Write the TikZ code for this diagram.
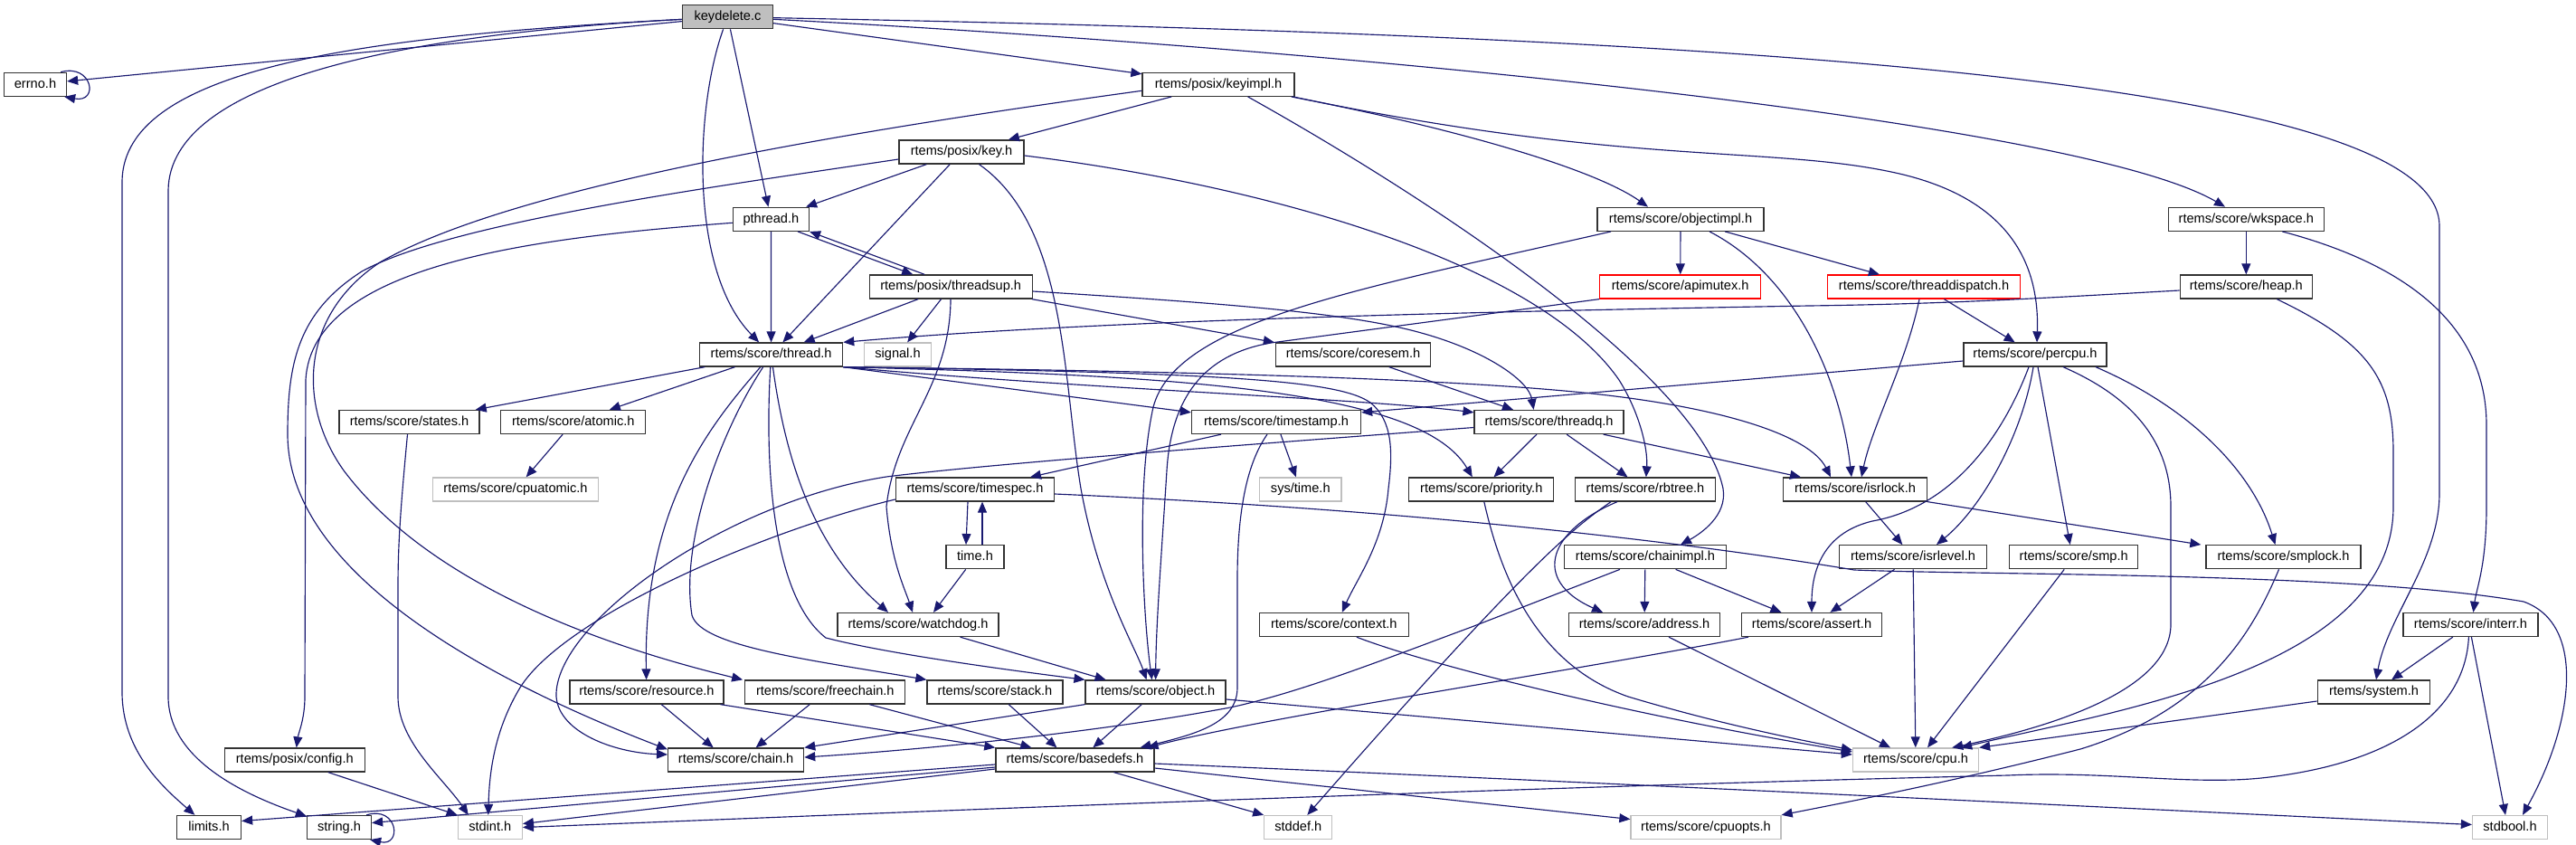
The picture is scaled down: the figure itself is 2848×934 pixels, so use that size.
\documentclass[tikz,border=0pt]{standalone}
\usepackage{fontspec}
\setmainfont{Liberation Sans}
\usetikzlibrary{arrows.meta}
\definecolor{edgec}{HTML}{191970}
\definecolor{greyb}{HTML}{BFBFBF}
\begin{document}
\begin{tikzpicture}[x=1pt,y=-1pt,
  box/.style={draw=black!80,line width=1.3pt,fill=white,minimum height=26pt,inner sep=0pt,
     font=\fontsize{14.6}{16}\selectfont,text height=10.6pt,text depth=3.1pt},
  gbox/.style={box,draw=greyb},
  rbox/.style={box,draw=red},
  dep/.style={draw=edgec,line width=1.15pt,-{Triangle[length=12pt,width=10pt]}}]
\useasboundingbox (0,0) rectangle (2848,934);
% ---------- nodes ----------
\node[box,fill=greyb,minimum width=100pt] (kd) at (804.5,18.7) {keydelete.c};
\node[box,minimum width=69pt] (errno) at (39,93.3) {errno.h};
\node[box,minimum width=168pt] (keyimpl) at (1347,93.3) {rtems/posix/keyimpl.h};
\node[box,minimum width=138pt] (key) at (1063,168) {rtems/posix/key.h};
\node[box,minimum width=84pt] (pthread) at (852.4,242.3) {pthread.h};
\node[box,minimum width=184pt] (objimpl) at (1858,242.3) {rtems/score/objectimpl.h};
\node[box,minimum width=172pt] (wkspace) at (2483.3,242.3) {rtems/score/wkspace.h};
\node[box,minimum width=180pt] (threadsup) at (1051.2,317) {rtems/posix/threadsup.h};
\node[rbox,minimum width=178pt] (apimutex) at (1857.7,317) {rtems/score/apimutex.h};
\node[rbox,minimum width=213pt] (tdisp) at (2127,317) {rtems/score/threaddispatch.h};
\node[box,minimum width=146pt] (heap) at (2483.3,317) {rtems/score/heap.h};
\node[box,minimum width=158pt] (thread) at (852.6,392) {rtems/score/thread.h};
\node[gbox,minimum width=73.5pt] (signal) at (992.5,392) {signal.h};
\node[box,minimum width=171pt] (coresem) at (1496,392) {rtems/score/coresem.h};
\node[box,minimum width=158pt] (percpu) at (2250,392) {rtems/score/percpu.h};
\node[box,minimum width=155pt] (states) at (452.5,466.5) {rtems/score/states.h};
\node[box,minimum width=160pt] (atomic) at (633.8,466.5) {rtems/score/atomic.h};
\node[box,minimum width=187pt] (timestamp) at (1411,466.5) {rtems/score/timestamp.h};
\node[box,minimum width=165pt] (threadq) at (1712.6,466.5) {rtems/score/threadq.h};
\node[gbox,minimum width=183pt] (cpuatomic) at (570,541) {rtems/score/cpuatomic.h};
\node[box,minimum width=175pt] (timespec) at (1078,541) {rtems/score/timespec.h};
\node[gbox,minimum width=90.6pt] (systime) at (1437.8,541) {sys/time.h};
\node[box,minimum width=160pt] (priority) at (1637.8,541) {rtems/score/priority.h};
\node[box,minimum width=155pt] (rbtree) at (1819,541) {rtems/score/rbtree.h};
\node[box,minimum width=159pt] (isrlock) at (2051,541) {rtems/score/isrlock.h};
\node[box,minimum width=64pt] (time) at (1078,615.7) {time.h};
\node[box,minimum width=179pt] (chainimpl) at (1819,615.7) {rtems/score/chainimpl.h};
\node[box,minimum width=163pt] (isrlevel) at (2115,615.7) {rtems/score/isrlevel.h};
\node[box,minimum width=142pt] (smp) at (2292.7,615.7) {rtems/score/smp.h};
\node[box,minimum width=171pt] (smplock) at (2524.5,615.7) {rtems/score/smplock.h};
\node[box,minimum width=178pt] (watchdog) at (1015,690.5) {rtems/score/watchdog.h};
\node[box,minimum width=165pt] (context) at (1474.8,690.5) {rtems/score/context.h};
\node[box,minimum width=167pt] (address) at (1818,690.5) {rtems/score/address.h};
\node[box,minimum width=155pt] (assert) at (2003,690.5) {rtems/score/assert.h};
\node[box,minimum width=149pt] (interr) at (2731.4,690.5) {rtems/score/interr.h};
\node[box,minimum width=170pt] (resource) at (714.9,765) {rtems/score/resource.h};
\node[box,minimum width=177pt] (freechain) at (912.3,765) {rtems/score/freechain.h};
\node[box,minimum width=150pt] (stack) at (1100,765) {rtems/score/stack.h};
\node[box,minimum width=155pt] (object) at (1277.6,765) {rtems/score/object.h};
\node[box,minimum width=124.5pt] (system) at (2624.5,765) {rtems/system.h};
\node[box,minimum width=155pt] (config) at (325.8,840) {rtems/posix/config.h};
\node[box,minimum width=150pt] (chain) at (813.6,840) {rtems/score/chain.h};
\node[box,minimum width=175pt] (basedefs) at (1188.4,840) {rtems/score/basedefs.h};
\node[gbox,minimum width=139pt] (cpu) at (2118,840) {rtems/score/cpu.h};
\node[box,minimum width=71pt] (limits) at (231,914.5) {limits.h};
\node[box,minimum width=71pt] (string) at (375,914.5) {string.h};
\node[gbox,minimum width=71pt] (stdint) at (541.8,914.5) {stdint.h};
\node[gbox,minimum width=75pt] (stddef) at (1435.3,914.5) {stddef.h};
\node[gbox,minimum width=166pt] (cpuopts) at (1886,914.5) {rtems/score/cpuopts.h};
\node[gbox,minimum width=83pt] (stdbool) at (2775,914.5) {stdbool.h};
% ---------- edges: keydelete.c ----------
\draw[dep] (kd) -- (errno);
\draw[dep] ([xshift=-7pt]errno.north east) .. controls (102,70) and (110,114) .. ([xshift=-3pt]errno.south east);
\draw[dep] (kd) .. controls (400,40) and (137,75) .. (135,200) -- (135,765) .. controls (135,830) and (180,870) .. (limits);
\draw[dep] (kd) .. controls (440,38) and (188,90) .. (186,210) -- (186,770) .. controls (186,835) and (260,875) .. (string);
\draw[dep] (kd) -- (pthread);
\draw[dep] (kd) .. controls (768,120) and (762,300) .. (thread);
\draw[dep] (kd) -- (keyimpl);
\draw[dep] (kd) .. controls (1500,55) and (2300,135) .. (wkspace);
\draw[dep] (kd) .. controls (1900,40) and (2697,85) .. (2697,250) -- (2697,545) .. controls (2697,620) and (2640,680) .. (system);
% ---------- keyimpl ----------
\draw[dep] (keyimpl) -- (key);
\draw[dep] ([yshift=-7pt]keyimpl.west) .. controls (900,150) and (560,210) .. (420,290) .. controls (330,350) and (330,450) .. (380,520) .. controls (470,640) and (650,710) .. ([xshift=-2pt]freechain.north west);
\draw[dep] ([xshift=-4pt]keyimpl.south east) .. controls (1600,140) and (1760,185) .. ([xshift=-36pt]objimpl.north);
\draw[dep] ([xshift=-2pt]keyimpl.south east) .. controls (1800,185) and (1960,160) .. (2100,192) .. controls (2220,220) and (2255,290) .. ([xshift=2pt]percpu.north);
\draw[dep] ([xshift=-52pt]keyimpl.south east) .. controls (1600,230) and (1880,420) .. (1905,540) .. controls (1910,570) and (1880,590) .. ([xshift=39pt]chainimpl.north);
% ---------- key ----------
\draw[dep] (key) -- (pthread);
\draw[dep] (key) -- (thread);
\draw[dep] (key) .. controls (1180,250) and (1175,420) .. (1195,540) .. controls (1215,650) and (1255,715) .. ([xshift=-10pt]object.north);
\draw[dep] ([yshift=-4pt]key.east) .. controls (1400,205) and (1700,290) .. (1790,420) .. controls (1812,455) and (1822,495) .. (rbtree);
\draw[dep] ([yshift=-8pt]key.west) .. controls (800,205) and (500,245) .. (400,300) .. controls (330,345) and (318,400) .. (318,480) .. controls (318,640) and (560,760) .. ([yshift=-2pt]chain.north west);
% ---------- pthread / threadsup ----------
\draw[dep] (pthread) -- (thread);
\draw[dep] ([xshift=-13pt]pthread.south east) -- ([xshift=-42pt]threadsup.north);
\draw[dep] ([yshift=-4pt]pthread.west) .. controls (600,262) and (345,290) .. (338,420) -- (337,770) .. controls (337,795) and (330,810) .. (config);
\draw[dep] ([xshift=-29pt]threadsup.north) -- (pthread.south east);
\draw[dep] (threadsup) -- (thread);
\draw[dep] (threadsup) -- (signal);
\draw[dep] ([xshift=-1pt]threadsup.south east) -- ([xshift=-1pt]coresem.north west);
\draw[dep] ([yshift=-5pt]threadsup.east) .. controls (1350,335) and (1480,345) .. (1560,365) .. controls (1640,385) and (1690,420) .. ([xshift=-17pt]threadq.north);
\draw[dep] (threadsup) .. controls (1050,430) and (990,470) .. (980,560) .. controls (985,620) and (1000,650) .. ([xshift=-6pt]watchdog.north);
% ---------- thread ----------
\draw[dep] (thread) -- (states);
\draw[dep] (thread) -- (atomic);
\draw[dep] (thread) .. controls (785,470) and (711,560) .. (resource);
\draw[dep] (thread) .. controls (795,480) and (752,600) .. (765,680) .. controls (775,715) and (900,730) .. (stack.north west);
\draw[dep] (thread) .. controls (845,520) and (855,660) .. (913,705) .. controls (990,725) and (1150,745) .. (object.north west);
\draw[dep] (thread) .. controls (870,520) and (905,610) .. ([xshift=-33pt]watchdog.north);
\draw[dep] (thread.south east) -- ([yshift=-3pt]timestamp.north west);
\draw[dep] (thread.south east) .. controls (1200,430) and (1500,440) .. ([yshift=-3pt]threadq.north west);
\draw[dep] (thread.south east) .. controls (1300,415) and (1570,430) .. ([xshift=-10pt]priority.north);
\draw[dep] (thread.south east) .. controls (1300,410) and (1600,418) .. (1760,435) .. controls (1900,450) and (2000,480) .. ([xshift=-27pt]isrlock.north);
\draw[dep] (thread.south east) .. controls (1350,412) and (1480,420) .. (1515,445) .. controls (1540,465) and (1540,500) .. (1535,540) .. controls (1530,600) and (1500,640) .. ([xshift=9pt]context.north);
% ---------- coresem / objectimpl / apimutex / threaddispatch ----------
\draw[dep] (coresem) -- (threadq);
\draw[dep] (objimpl) -- (apimutex);
\draw[dep] (objimpl) -- (tdisp);
\draw[dep] ([xshift=32pt]objimpl.south) .. controls (1985,305) and (2035,420) .. ([xshift=-4pt]isrlock.north);
\draw[dep] ([xshift=-77pt]objimpl.south) .. controls (1500,320) and (1300,355) .. (1275,450) .. controls (1255,540) and (1265,690) .. ([xshift=-4pt]object.north);
\draw[dep] (apimutex.south west) -- (1405,379) .. controls (1330,392) and (1295,440) .. (1290,520) .. controls (1285,600) and (1278,690) .. (object);
\draw[dep] (tdisp) -- (percpu);
\draw[dep] ([xshift=-5pt]tdisp.south) .. controls (2108,400) and (2070,470) .. ([xshift=7pt]isrlock.north);
% ---------- wkspace / heap ----------
\draw[dep] (wkspace) -- (heap);
\draw[dep] ([xshift=40pt]wkspace.south) .. controls (2690,300) and (2749,380) .. (2749,470) -- (2749,560) .. controls (2749,625) and (2738,650) .. ([xshift=3pt]interr.north);
\draw[dep] ([yshift=-4pt]heap.west) .. controls (2250,330) and (2150,336) .. (2000,338) .. controls (1600,345) and (1200,355) .. (thread.north east);
\draw[dep] ([xshift=34pt]heap.south) .. controls (2620,380) and (2646,420) .. (2646,500) -- (2646,560) .. controls (2646,740) and (2340,785) .. ([xshift=-20pt]cpu.north east);
% ---------- percpu ----------
\draw[dep] ([yshift=-7pt]percpu.west) -- ([yshift=-3pt]timestamp.north east);
\draw[dep] ([xshift=-7pt]percpu.south) .. controls (2215,480) and (2160,560) .. (2070,576) .. controls (2020,588) and (2003,625) .. (assert);
\draw[dep] ([xshift=-2pt]percpu.south) .. controls (2236,480) and (2192,560) .. ([xshift=26pt]isrlevel.north);
\draw[dep] ([xshift=3pt]percpu.south) -- ([xshift=-4pt]smp.north);
\draw[dep] ([xshift=31pt]percpu.south) .. controls (2360,440) and (2400,490) .. (2400,560) -- (2400,690) .. controls (2400,765) and (2260,805) .. ([xshift=-30pt]cpu.north east);
\draw[dep] ([xshift=67pt]percpu.south) .. controls (2420,450) and (2490,520) .. ([xshift=-9pt]smplock.north);
% ---------- threadq ----------
\draw[dep] ([yshift=-6pt]threadq.west) .. controls (1400,490) and (1100,512) .. (980,527) .. controls (800,555) and (612,690) .. (615,770) .. controls (618,810) and (680,832) .. ([yshift=6pt]chain.west);
\draw[dep] (threadq) -- (priority);
\draw[dep] (threadq) -- (rbtree);
\draw[dep] ([xshift=60pt]threadq.south) -- ([xshift=-60pt]isrlock.north);
% ---------- timestamp / timespec / time ----------
\draw[dep] (timestamp) -- (timespec);
\draw[dep] (timestamp) -- (systime);
\draw[dep] ([xshift=-10pt]timestamp.south) .. controls (1380,510) and (1368,560) .. (1368,640) -- (1368,760) .. controls (1368,800) and (1320,812) .. ([xshift=-16pt]basedefs.north east);
\draw[dep] ([xshift=-8pt]timespec.south) -- ([xshift=-10pt]time.north);
\draw[dep] ([xshift=8pt]time.north) -- ([xshift=8pt]timespec.south);
\draw[dep] ([yshift=-11pt]timespec.west) .. controls (850,585) and (625,680) .. (575,760) .. controls (548,805) and (541,850) .. ([xshift=-2pt]stdint.north);
\draw[dep] ([yshift=-5pt]timespec.east) .. controls (1600,565) and (1900,605) .. (2050,630) .. controls (2200,636) and (2600,632) .. (2790,665) .. controls (2860,690) and (2845,800) .. ([xshift=14pt]stdbool.north);
\draw[dep] (time) -- ([xshift=17pt]watchdog.north);
% ---------- states / atomic / config ----------
\draw[dep] ([xshift=-2pt]states.south) .. controls (443,560) and (440,600) .. (440,650) -- (440,770) .. controls (440,820) and (490,860) .. ([xshift=-24pt]stdint.north);
\draw[dep] (atomic) -- (cpuatomic);
\draw[dep] ([xshift=37pt]config.south) -- (stdint.north west);
% ---------- chainimpl / rbtree / priority / context / address / assert ----------
\draw[dep] ([xshift=-28pt]chainimpl.south) -- (1627,693) .. controls (1540,725) and (1440,765) .. (1360,782) .. controls (1200,812) and (1000,830) .. ([yshift=3pt]chain.east);
\draw[dep] (chainimpl) -- (address);
\draw[dep] (chainimpl) -- (assert);
\draw[dep] ([xshift=-31pt]rbtree.south) .. controls (1715,585) and (1690,640) .. ([xshift=-46pt]address.north);
\draw[dep] ([xshift=-38pt]rbtree.south) .. controls (1745,580) and (1700,610) .. ([xshift=10pt]stddef.north);
\draw[dep] ([xshift=3pt]priority.south) .. controls (1660,640) and (1700,735) .. (1800,770) .. controls (1900,800) and (1990,818) .. ([yshift=11pt]cpu.west);
\draw[dep] ([xshift=25pt]context.south) .. controls (1580,735) and (1800,790) .. ([yshift=9pt]cpu.west);
\draw[dep] ([xshift=27pt]address.south) -- ([xshift=-28pt]cpu.north);
\draw[dep] ([xshift=-70pt]assert.south) .. controls (1750,740) and (1400,792) .. ([xshift=-8pt]basedefs.north east);
% ---------- isrlock / isrlevel / smp / smplock ----------
\draw[dep] (isrlock) -- (isrlevel);
\draw[dep] (isrlock.south east) -- ([xshift=-5pt]smplock.north west);
\draw[dep] (isrlevel) -- (assert);
\draw[dep] (isrlevel) -- (cpu);
\draw[dep] (smp) -- ([xshift=13pt]cpu.north);
\draw[dep] ([xshift=-5pt]smplock.south) .. controls (2490,700) and (2440,785) .. (2300,828) .. controls (2150,866) and (2050,885) .. (cpuopts.north east);
% ---------- system / interr ----------
\draw[dep] ([yshift=-10pt]system.west) -- (cpu.north east);
\draw[dep] (interr) -- (system);
\draw[dep] ([xshift=1pt]interr.south) -- ([xshift=-5pt]stdbool.north);
\draw[dep] ([xshift=-2pt]interr.south) .. controls (2725,790) and (2640,845) .. (2500,860) .. controls (2420,868) and (2330,852) .. (2220,857) .. controls (1600,872) and (800,906) .. (stdint.east);
% ---------- lower layers ----------
\draw[dep] (resource) -- ([xshift=-25pt]chain.north);
\draw[dep] ([xshift=-4pt]resource.south east) -- (basedefs.north west);
\draw[dep] (freechain) -- ([xshift=22pt]chain.north);
\draw[dep] ([xshift=49pt]freechain.south) -- ([xshift=-48pt]basedefs.north);
\draw[dep] (stack) -- ([xshift=-20pt]basedefs.north);
\draw[dep] (object.south west) -- (chain.north east);
\draw[dep] (object) -- ([xshift=20pt]basedefs.north);
\draw[dep] ([yshift=-8pt]object.east) -- ([yshift=6pt]cpu.west);
\draw[dep] (watchdog) -- ([xshift=-55pt]object.north);
\draw[dep] ([yshift=-5pt]basedefs.west) -- ([yshift=7pt]limits.east);
\draw[dep] ([yshift=-8pt]basedefs.west) -- ([yshift=5pt]string.east);
\draw[dep] ([yshift=-10pt]basedefs.west) -- ([yshift=4pt]stdint.east);
\draw[dep] ([xshift=43pt]basedefs.south) -- (stddef.north west);
\draw[dep] ([yshift=-9pt]basedefs.east) -- ([yshift=9pt]cpuopts.west);
\draw[dep] ([yshift=-4pt]basedefs.east) .. controls (1800,866) and (2400,896) .. ([yshift=3pt]stdbool.west);
\draw[dep] ([xshift=-6pt]string.north east) .. controls (440,890) and (445,936) .. ([xshift=-2pt]string.south east);
\end{tikzpicture}
\end{document}
